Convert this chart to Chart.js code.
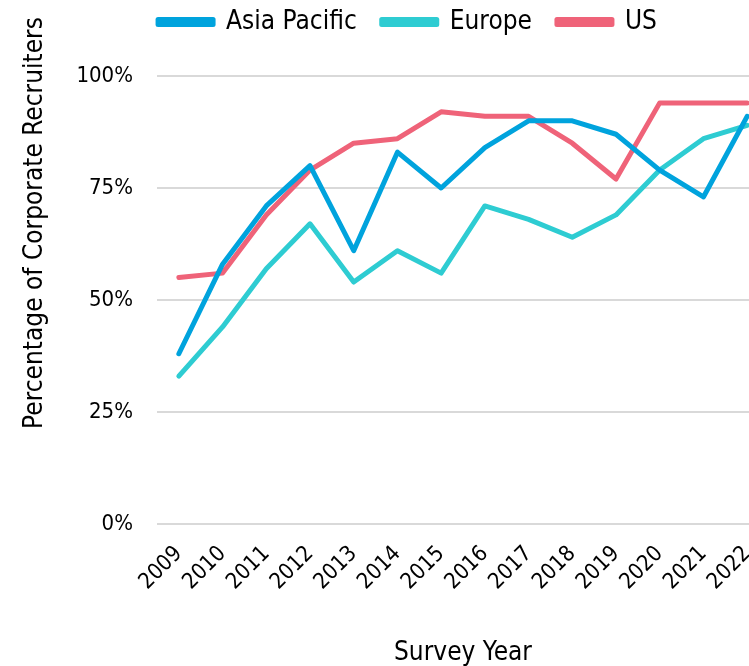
<!DOCTYPE html>
<html>
<head>
<meta charset="utf-8">
<script src="https://cdn.jsdelivr.net/npm/chart.js@4/dist/chart.umd.min.js"></script>
<style>
  html, body { margin: 0; padding: 0; background: #fff; overflow: hidden; }
  #wrap { position: relative; width: 855px; height: 666px; }
</style>
</head>
<body>
<div id="wrap"><canvas id="c"></canvas></div>
<script>
const years = ["2009","2010","2011","2012","2013","2014","2015","2016","2017","2018","2019","2020","2021","2022"];
const asiaPacific = [38,58,71,80,61,83,75,84,90,90,87,79,73,91];
const europe = [33,44,57,67,54,61,56,71,68,64,69,79,86,89];
const us = [55,56,69,79,85,86,92,91,91,85,77,94,94,94];
const yTicks = [0,25,50,75,100];
const yTitle = "Percentage of Corporate Recruiters";
const xTitle = "Survey Year";

const FONT = "'DejaVu Sans Condensed', 'DejaVu Sans', sans-serif";

const yTitlePlugin = {
  id: 'yTitle',
  afterLayout(chart) {
    const lg = chart.legend;
    if (lg) { lg.top -= 31; lg.bottom -= 31; }
  },
  afterDraw(chart) {
    const ctx = chart.ctx;
    ctx.save();
    ctx.translate(35, 223);
    ctx.rotate(-Math.PI / 2);
    ctx.font = "26px " + FONT;
    ctx.fillStyle = "#000";
    ctx.textAlign = "center";
    ctx.textBaseline = "middle";
    ctx.fillText(yTitle, 0, 0);
    ctx.restore();
  }
};

function ds(label, data, color) {
  return {
    label, data,
    borderColor: color, backgroundColor: color,
    borderWidth: 5, pointRadius: 0, tension: 0,
    borderJoinStyle: 'round', borderCapStyle: 'round', fill: false
  };
}

new Chart(document.getElementById('c'), {
  type: 'line',
  data: {
    labels: years,
    datasets: [
      ds('Asia Pacific', asiaPacific, '#00A3DD'),
      ds('Europe', europe, '#2ECCD2'),
      ds('US', us, '#EF6379')
    ]
  },
  options: {
    responsive: true,
    maintainAspectRatio: false,
    animation: false,
    layout: { padding: { left: 46, right: 86, top: 15, bottom: 0 } },
    plugins: {
      tooltip: { enabled: false },
      legend: {
        position: 'top',
        labels: {
          boxWidth: 55, boxHeight: 5, padding: 25,
          color: '#000',
          font: { family: FONT, size: 26 }
        }
      }
    },
    scales: {
      x: {
        offset: true,
        grid: { display: false, drawTicks: false },
        border: { display: false },
        ticks: {
          color: '#000', font: { family: FONT, size: 22 },
          minRotation: 45, maxRotation: 45, padding: 17, autoSkip: false
        },
        title: {
          display: true, text: xTitle, color: '#000',
          font: { family: FONT, size: 26, lineHeight: 1.0 }, padding: { top: 4, bottom: 0 }
        },
        afterFit(scale) { scale.height = 142; }
      },
      y: {
        min: 0, max: 100,
        afterBuildTicks(scale) { scale.ticks = yTicks.map(v => ({ value: v })); },
        grid: { color: '#D9D9D9', lineWidth: 2, drawTicks: false },
        border: { display: false },
        ticks: {
          color: '#000', font: { family: FONT, size: 22 }, padding: 24,
          callback: v => v + '%'
        },
        afterFit(scale) { scale.width = 111; }
      }
    }
  },
  plugins: [yTitlePlugin]
});
</script>
</body>
</html>
